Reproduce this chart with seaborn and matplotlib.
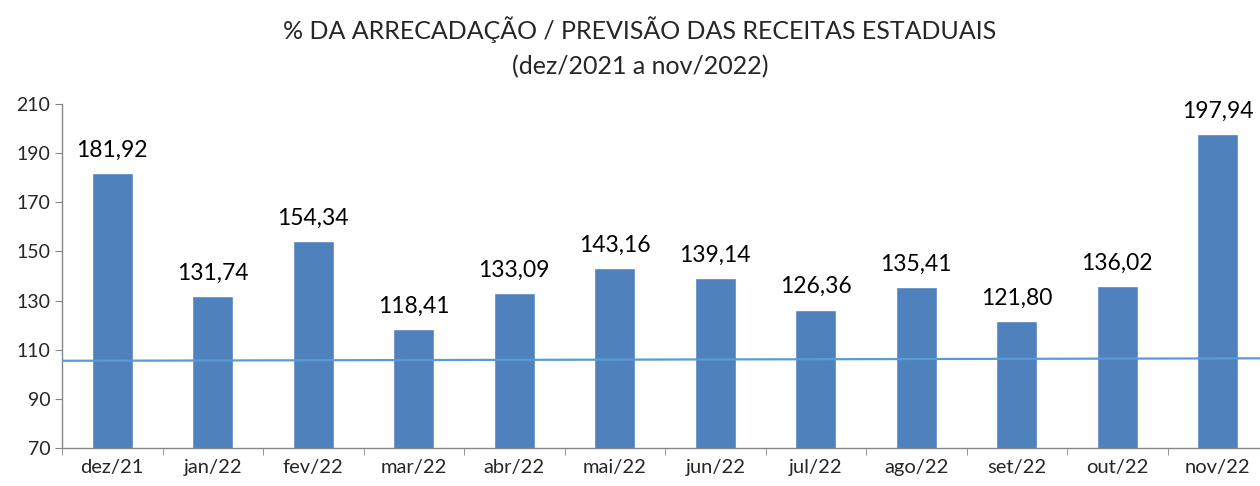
import seaborn as sns
import matplotlib.pyplot as plt
import pandas as pd
import numpy as np

meses = ['dez/21', 'jan/22', 'fev/22', 'mar/22', 'abr/22', 'mai/22',
         'jun/22', 'jul/22', 'ago/22', 'set/22', 'out/22', 'nov/22']
percentual = [181.92, 131.74, 154.34, 118.41, 133.09, 143.16,
              139.14, 126.36, 135.41, 121.80, 136.02, 197.94]
# linha de referencia (inicio, fim)
linha_ref = [105.5, 106.5]

sns.set_style("white")
plt.rcParams['font.family'] = ['Lato', 'DejaVu Sans']

df = pd.DataFrame({'mes': meses, 'pct': percentual})

fig = plt.figure(figsize=(12.6, 4.86), dpi=100)
ax = fig.add_axes([62 / 1260, 38 / 486, (1268 - 62) / 1260, (448 - 104) / 486])

sns.barplot(data=df, x='mes', y='pct', color='#4F81BD', saturation=1,
            width=0.41, ax=ax, zorder=2)

ax.set_xlim(-0.5, len(meses) - 0.5)
ax.set_ylim(70, 210)
ax.set_yticks(np.arange(70, 211, 20))

xl = ax.get_xlim()
ax.plot(xl, linha_ref, color='#5B9BD5', lw=1.6, zorder=3)

for i, v in enumerate(percentual):
    ax.text(i, v + 5, f"{v:.2f}".replace('.', ','), ha='center', va='bottom',
            fontsize=16.5, color='black')

ax.set_xlabel("")
ax.set_ylabel("")
ax.tick_params(axis='x', which='major', length=0, labelsize=14.5, pad=8)
ax.set_xticks(np.arange(-0.5, len(meses), 1), minor=True)
ax.tick_params(axis='x', which='minor', length=5, color='#868686', direction='out')
ax.tick_params(axis='y', length=5, color='#868686', labelsize=14, direction='out')
ax.yaxis.set_ticks_position('left')
ax.xaxis.set_ticks_position('bottom')

for s in ['top', 'right']:
    ax.spines[s].set_visible(False)
for s in ['left', 'bottom']:
    ax.spines[s].set_color('#868686')
    ax.spines[s].set_linewidth(1.0)

fig.text(0.508, 0.94, "% DA ARRECADAÇÃO / PREVISÃO DAS RECEITAS ESTADUAIS",
         ha='center', va='center', fontsize=18)
fig.text(0.508, 0.862, "(dez/2021 a nov/2022)", ha='center', va='center', fontsize=18)

fig.savefig('out.png', dpi=100)
